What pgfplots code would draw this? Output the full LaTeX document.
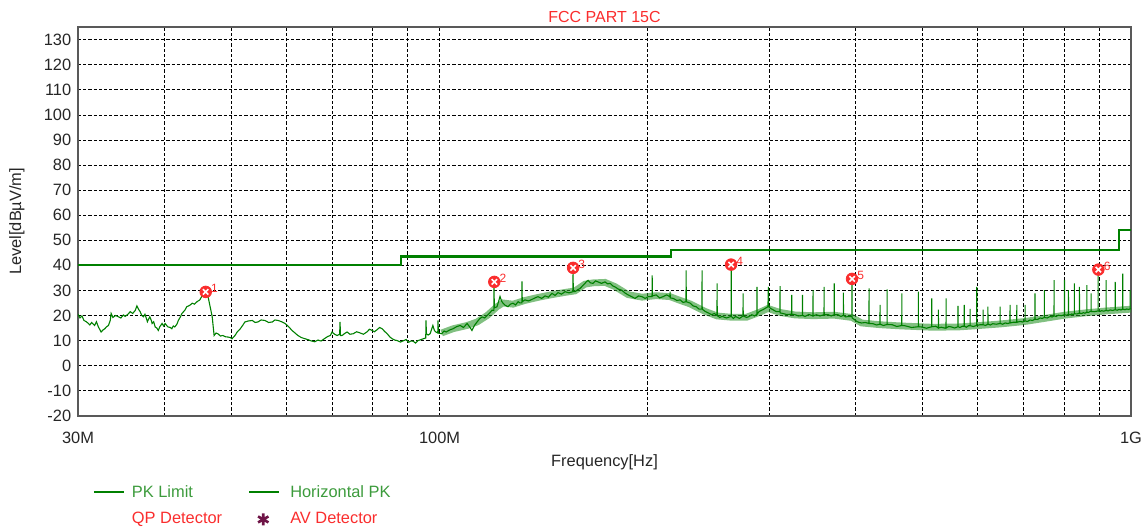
\documentclass[border=0pt]{standalone}
\usepackage{fontspec}
\setmainfont{Liberation Sans}
\usepackage{pgfplots}
\usepackage{pgfplotstable}
\pgfplotsset{compat=1.18}
\definecolor{dgreen}{RGB}{0,128,0}
\definecolor{lgreen}{RGB}{45,150,45}
\definecolor{tgreen}{RGB}{60,155,60}
\definecolor{qred}{RGB}{250,45,45}
\definecolor{avpurple}{RGB}{110,20,70}

\pgfplotstableread{
f lev
30 40
88 40
88 43.5
216 43.5
216 46
960 46
960 54
1000 54
}\limit

\pgfplotstableread{
f lev lab
45.9 29.4 1
120.0 33.4 2
156.0 39.0 3
264.0 40.3 4
395.0 34.6 5
897.0 38.3 6
}\markers

\pgfplotstableread{
f lev
100.7 13.0
104.6 14.7
109.6 16.0
113.3 17.4
117.2 20.0
121.1 23.5
123.5 25.0
127.7 24.5
132.9 26.0
138.8 27.2
145.4 28.3
151.9 29.2
157.0 29.8
162.3 32.5
166.7 33.0
173.5 33.2
179.4 31.5
187.4 28.3
196.3 27.3
205.7 27.9
215.5 27.5
222.8 26.0
230.4 24.6
242.2 21.6
252.0 19.8
264.0 19.3
278.0 19.3
289.9 21.2
298.5 22.8
310.8 21.2
326.8 20.2
346.9 19.9
372.3 20.1
395.0 19.2
407.8 17.0
433.6 16.3
466.2 15.8
515.0 15.3
562.0 15.4
598.3 15.9
646.7 16.6
702.8 17.6
749.5 18.8
801.4 20.1
863.2 21.1
920.4 21.8
1000 22.5
}\band

\pgfplotstableread{
f lev
30.0 20.5
30.2 19.0
30.4 19.8
30.6 18.0
30.8 17.6
31.0 17.0
31.2 16.2
31.4 17.2
31.7 16.0
31.9 17.5
32.1 15.5
32.4 13.4
32.6 14.2
32.8 14.7
33.0 15.5
33.2 16.0
33.4 18.0
33.5 20.8
33.7 19.2
34.0 20.0
34.3 19.5
34.6 19.0
34.9 20.2
35.1 19.6
35.4 20.4
35.7 21.5
36.0 20.8
36.3 22.0
36.5 23.8
36.7 22.5
36.9 21.5
37.1 20.0
37.3 19.5
37.5 20.5
37.8 17.5
38.1 19.5
38.3 18.0
38.4 16.8
38.6 17.5
38.8 15.4
39.0 15.0
39.2 14.0
39.4 15.5
39.7 16.8
39.9 15.8
40.1 16.8
40.3 16.0
40.5 15.4
40.8 15.2
41.0 14.7
41.2 15.8
41.4 15.4
41.7 16.5
41.9 18.0
42.2 19.5
42.4 20.8
42.8 22.0
43.1 23.5
43.5 24.0
43.9 24.9
44.2 24.5
44.6 25.5
45.0 26.2
45.3 27.6
45.7 28.0
46.0 29.0
46.3 27.0
46.9 19.5
47.2 12.0
47.5 13.0
47.8 12.7
48.2 11.8
48.6 12.0
49.0 11.5
49.4 11.4
49.8 11.2
50.1 10.7
50.4 11.5
50.6 12.0
51.0 13.5
51.5 14.7
51.9 16.0
52.3 17.4
52.9 17.8
53.6 18.0
54.1 17.2
54.6 17.4
55.2 18.2
55.9 18.0
56.6 17.2
57.3 17.4
57.8 18.2
58.4 18.0
59.1 17.5
59.8 16.8
60.5 15.5
61.2 14.0
61.8 13.0
62.4 12.0
63.1 11.2
63.9 10.7
64.6 10.3
65.3 9.8
66.0 9.5
66.7 10.2
67.4 9.8
68.2 10.8
68.9 11.6
69.5 12.0
69.9 13.4
70.5 12.5
71.1 12.0
71.7 12.5
71.8 17.4
71.9 12.0
72.3 12.0
72.9 12.8
73.5 13.4
74.2 12.5
75.0 12.7
75.9 13.5
76.8 13.0
77.6 12.5
78.5 13.4
79.2 14.5
79.9 14.0
80.5 13.5
81.2 14.3
81.9 15.2
82.6 14.7
83.3 13.6
84.0 12.7
84.7 11.5
85.4 10.7
86.1 10.2
86.8 10.0
87.8 9.4
88.8 10.0
89.5 10.4
90.2 9.3
90.9 9.8
91.6 9.7
92.3 9.0
93.1 10.0
93.9 10.3
94.7 10.7
95.5 11.0
95.6 18.0
95.7 12.7
96.3 12.2
96.9 12.7
97.4 14.5
97.8 16.0
98.3 14.0
98.8 13.4
99.4 13.0
99.5 18.0
99.6 13.0
100.7 12.7
101.5 13.8
102.2 13.4
103.4 14.2
104.6 14.7
105.8 15.5
107.1 16.0
108.3 15.2
109.6 16.8
110.5 15.5
111.4 14.0
112.3 16.0
113.3 17.4
114.2 18.6
115.2 19.4
116.2 19.0
117.2 20.0
118.2 21.0
119.1 22.1
119.8 22.0
119.9 31.6
120.0 23.0
121.1 23.5
121.7 25.5
122.3 27.6
122.9 25.8
123.5 24.9
124.5 24.0
125.6 23.5
126.6 24.5
127.7 24.9
128.8 24.2
129.9 25.5
130.7 25.0
131.5 25.0
131.6 33.6
131.7 25.5
132.9 26.2
134.5 25.8
136.0 26.4
137.4 27.0
138.8 27.5
140.5 26.8
142.1 27.8
143.7 27.3
145.4 28.8
146.9 28.0
148.4 29.1
150.1 28.5
151.9 29.5
153.9 29.0
155.9 29.5
156.0 38.0
156.1 29.5
157.0 29.5
158.3 30.2
159.7 30.8
161.0 31.8
162.3 32.8
163.1 33.5
164.0 34.0
165.3 33.0
166.7 32.8
168.1 33.8
169.5 33.4
171.5 32.8
173.5 33.4
175.0 32.6
176.5 32.8
178.0 31.8
179.4 31.4
181.4 30.5
183.4 30.1
185.4 29.0
187.4 28.2
189.6 27.5
191.8 26.8
194.0 27.8
196.3 27.5
198.3 26.8
200.3 27.5
202.9 27.5
203.0 36.0
203.1 27.8
205.7 28.2
208.1 27.0
210.5 27.5
213.0 28.2
215.4 27.5
215.5 29.5
215.6 27.0
217.8 26.8
220.3 26.0
222.8 26.2
225.0 25.2
227.2 25.5
227.3 38.0
227.4 25.5
230.4 24.9
232.7 23.8
235.0 23.5
237.4 22.5
239.6 22.5
239.7 38.0
239.8 22.5
242.2 21.6
244.8 21.0
247.5 20.3
249.7 20.8
251.9 20.0
252.0 32.8
252.1 20.0
254.2 19.2
256.3 19.6
260.0 19.0
264.0 19.6
264.1 39.3
264.2 19.6
266.0 18.8
268.0 19.6
271.5 18.8
274.7 19.8
274.8 28.8
274.9 19.8
278.0 19.2
280.0 19.5
282.9 20.3
285.5 19.8
287.7 20.5
287.8 31.4
287.9 20.5
289.9 21.6
294.0 22.4
298.5 23.5
298.9 31.4
299.2 23.5
301.2 22.8
303.5 22.3
307.0 21.5
310.7 21.5
310.8 31.7
310.9 21.0
312.5 20.9
317.5 20.4
323.0 20.5
323.1 28.2
323.2 20.5
326.8 20.3
330.5 19.8
334.8 20.0
334.9 28.2
335.0 20.0
337.8 19.6
342.0 20.4
346.8 19.8
346.9 30.1
347.0 19.8
350.7 20.3
355.0 19.8
359.8 20.3
359.9 31.4
360.0 20.3
364.8 20.3
368.5 19.8
372.2 20.3
372.3 32.8
372.4 20.3
377.0 20.3
380.5 19.6
383.7 20.0
383.8 29.1
383.9 20.0
387.0 19.4
390.0 19.6
394.9 19.5
395.0 34.3
395.1 19.0
398.0 18.4
401.3 17.6
404.5 17.2
407.8 17.0
412.8 17.2
417.9 16.8
418.0 30.8
418.1 16.8
423.6 16.7
428.5 16.2
433.5 16.5
433.6 24.2
433.7 16.5
438.5 16.0
443.8 16.4
443.9 30.4
444.0 16.4
451.5 16.3
458.5 15.6
466.1 16.0
466.2 28.8
466.3 16.0
471.0 15.9
481.5 15.2
492.5 15.5
492.6 29.5
492.7 15.5
498.0 15.4
506.0 14.9
514.9 15.5
515.0 26.8
515.1 15.5
522.0 15.7
526.5 15.0
526.6 22.3
526.7 15.0
531.5 15.3
537.0 15.0
540.1 15.0
540.2 26.8
540.3 15.0
545.0 15.6
550.0 15.4
556.0 15.0
561.9 15.5
562.0 23.8
562.1 15.5
566.0 15.2
570.0 15.7
573.9 15.7
574.0 24.2
574.1 15.7
578.0 15.3
582.0 15.9
585.1 15.9
585.2 22.6
585.3 15.9
591.5 15.6
598.2 16.0
598.3 31.4
598.4 16.0
605.0 16.3
611.0 16.3
611.1 22.3
611.2 16.3
616.0 16.0
620.9 16.5
621.0 23.5
621.1 16.5
626.0 16.2
631.0 16.7
638.5 16.5
646.6 16.8
646.7 23.5
646.8 16.8
652.0 16.5
657.7 17.0
663.0 16.8
668.4 17.0
668.5 24.2
668.6 17.0
676.0 17.3
683.6 17.3
683.7 24.2
683.8 17.3
691.1 17.6
697.0 17.4
702.7 17.8
702.8 24.2
702.9 17.8
708.5 17.6
714.5 18.2
720.5 18.0
726.4 18.5
726.5 28.8
726.6 18.5
732.5 18.4
738.9 19.0
744.0 18.8
749.4 19.2
749.5 30.1
749.6 19.2
756.5 19.0
763.8 19.6
769.0 19.4
774.0 19.8
774.1 34.1
774.2 19.8
779.5 19.6
785.2 20.1
793.0 19.9
801.3 20.3
801.4 34.1
801.5 20.3
806.5 20.1
811.8 20.4
811.9 30.1
812.0 20.4
816.5 20.2
820.9 20.6
824.5 20.3
828.1 20.7
828.2 32.8
828.3 20.7
835.0 20.6
842.1 20.9
842.2 31.4
842.3 20.9
848.0 20.8
853.6 21.1
858.0 20.9
863.1 21.3
863.2 32.1
863.3 21.3
868.0 21.2
872.8 21.6
875.6 21.6
875.7 28.8
875.8 21.6
885.0 21.5
896.2 21.8
896.3 36.4
896.4 21.8
901.5 21.6
907.0 21.9
913.5 21.7
920.3 22.0
920.4 34.1
920.5 22.0
926.5 21.8
932.8 22.2
940.5 22.0
948.6 22.3
948.7 33.4
948.8 22.3
955.0 22.1
961.5 22.4
967.0 22.2
972.9 22.5
973.0 36.7
973.1 22.5
980.0 22.3
986.0 22.6
991.5 22.4
996.9 22.6
997.0 30.1
997.1 22.6
1000.0 22.6
}\trace

\begin{document}
\fontsize{8.2pt}{10pt}\selectfont
\begin{tikzpicture}
\path[use as bounding box] (-39pt,-57.65pt) rectangle (534pt,207.85pt);
\begin{axis}[
  scale only axis,
  width=526.5pt, height=194.35pt,
  at={(0pt,0pt)}, anchor=south west,
  xmode=log, xmin=30, xmax=1000,
  ymin=-20, ymax=135.1,
  xtick={30,100,1000}, xticklabels={30M,100M,1G},
  minor xtick={40,50,60,70,80,90,200,300,400,500,600,700,800,900},
  ytick={-20,-10,0,10,20,30,40,50,60,70,80,90,100,110,120,130},
  grid=both,
  major grid style={black, dash pattern=on 1.6pt off 1pt, line width=0.45pt},
  minor grid style={black, dash pattern=on 1.6pt off 1pt, line width=0.45pt},
  axis line style={draw=black!65, line width=0.9pt},
  major tick length=0pt, minor tick length=0pt,
  /pgf/number format/assume math mode=true,
  tick label style={font=\fontsize{8.2pt}{10pt}\selectfont, black!85},
  xticklabel style={yshift=-5pt},
  yticklabel style={xshift=-0.5pt},
  xlabel={Frequency[Hz]},
  ylabel={Level[dBµV/m]},
  xlabel style={at={(axis description cs:0.5,-0.121)}, anchor=center, font=\fontsize{8.2pt}{10pt}\selectfont, black!85},
  ylabel style={at={(axis description cs:-0.058,0.5)}, anchor=center, font=\fontsize{8.2pt}{10pt}\selectfont, black!85},
  title={FCC PART 15C},
  title style={at={(axis description cs:0.5,1)}, anchor=south, inner sep=0pt, yshift=-4pt, text=qred, font=\fontsize{8pt}{10pt}\selectfont},
  legend columns=2,
  legend cell align=left,
  legend style={at={(axis description cs:0.008,-0.157)}, anchor=north west, draw=none, fill=none,
    font=\fontsize{8.2pt}{10pt}\selectfont, row sep=2.5pt,
    /tikz/every even column/.append style={column sep=11pt}},
  clip=true,
]
\addplot[color=dgreen, line width=1.1pt, forget plot] table[x=f,y=lev] {\limit};
\addlegendimage{legend image code/.code={\draw[dgreen, line width=1.1pt] (0pt,0pt) -- (15pt,0pt); \path[draw=none] (0pt,0pt) -- (17pt,0pt);}}
\addlegendentry{\textcolor{tgreen}{PK Limit}}
\addplot[color=lgreen, line width=3.4pt, opacity=0.6, forget plot] table[x=f,y=lev] {\band};
\addplot[color=dgreen, line width=0.55pt, forget plot] table[x=f,y=lev] {\trace};
\addlegendimage{legend image code/.code={\draw[dgreen, line width=1.1pt] (0pt,0pt) -- (15pt,0pt); \path[draw=none] (0pt,0pt) -- (18.5pt,0pt);}}
\addlegendentry{\textcolor{tgreen}{Horizontal PK}}
\addplot[only marks, mark=*, mark size=2.9pt, color=qred, forget plot,
  nodes near coords, point meta=explicit symbolic,
  every node near coord/.style={anchor=west, xshift=1.5pt, yshift=1.8pt, text=qred, inner sep=1pt, font=\fontsize{6pt}{7pt}\selectfont}]
  table[x=f,y=lev,meta=lab] {\markers};
\addplot[only marks, mark=x, mark size=1.9pt, color=white, line width=0.8pt, forget plot] table[x=f,y=lev] {\markers};
\addlegendimage{legend image code/.code={\path[draw=none] (0pt,0pt) -- (17pt,0pt);}}
\addlegendentry{\textcolor{qred}{QP Detector}}
\addlegendimage{legend image code/.code={\path[draw=none] (0pt,0pt) -- (18.5pt,0pt); \draw[avpurple, line width=1.3pt] plot[mark=asterisk, mark size=3pt] coordinates {(7pt,0pt)};}}
\addlegendentry{\textcolor{qred}{AV Detector}}
\end{axis}
\end{tikzpicture}
\end{document}
